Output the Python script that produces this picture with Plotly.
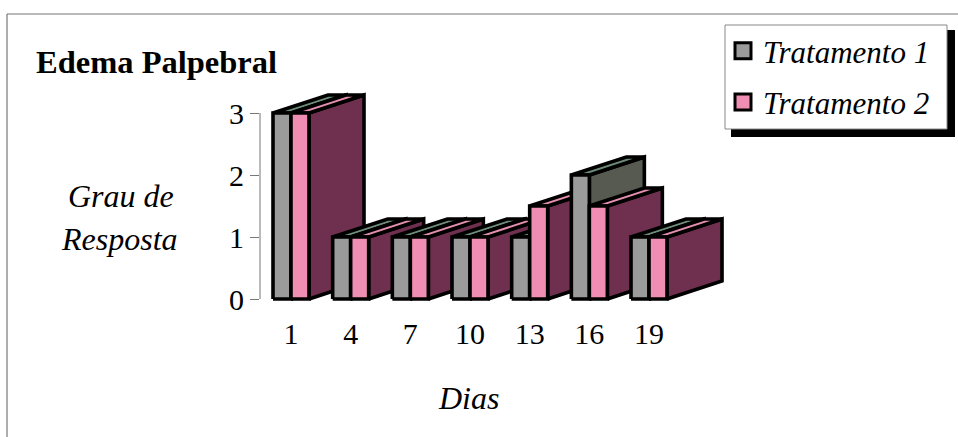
import plotly.graph_objects as go

days = [1, 4, 7, 10, 13, 16, 19]
tratamento_1 = [3, 1, 1, 1, 1, 2, 1]
tratamento_2 = [3, 1, 1, 1, 1.5, 1.5, 1]
y_ticks = [0, 1, 2, 3]

W, H = 958, 437
SERIF = "Liberation Serif, Times New Roman, serif"

# plot area in page pixels; it leaves room for the oblique depth of the bars
LEFT, RIGHT, TOP, BOTTOM = 260, 730, 88, 304
Y0_PX, Y3_PX = 299, 113
PX_PER_DAY = 19.89
PX_PER_UNIT = (Y0_PX - Y3_PX) / 3

BAR_W = 18 / PX_PER_DAY
DEPTH_X = 55 / PX_PER_DAY
DEPTH_Y = 18 / PX_PER_UNIT

x_start = 1 - (291 - LEFT) / PX_PER_DAY
x_end = x_start + (RIGHT - LEFT) / PX_PER_DAY
y_start = -(BOTTOM - Y0_PX) / PX_PER_UNIT
y_end = (Y0_PX - TOP) / PX_PER_UNIT

STYLES = [
    {"front": "#9b9b9b", "top": "#6f8b7a", "side": "#565a50"},
    {"front": "#f08db2", "top": "#e58fae", "side": "#6f2f4f"},
]


def face(xs, ys, color):
    return go.Scatter(
        x=xs, y=ys, mode="lines", fill="toself", fillcolor=color,
        line=dict(color="black", width=3.6),
        showlegend=False, hoverinfo="skip",
    )


def box_faces(x0, x1, v, style):
    """Side, top and front of one oblique bar, back to front."""
    dx, dy = DEPTH_X, DEPTH_Y
    return [
        face([x1, x1 + dx, x1 + dx, x1, x1], [0, dy, v + dy, v, 0], style["side"]),
        face([x0, x0 + dx, x1 + dx, x1, x0], [v, v + dy, v + dy, v, v], style["top"]),
        face([x0, x1, x1, x0, x0], [0, 0, v, v, 0], style["front"]),
    ]


fig = go.Figure()

for day, v1, v2 in zip(days, tratamento_1, tratamento_2):
    for tr in box_faces(day - BAR_W, day, v1, STYLES[0]):
        fig.add_trace(tr)
    for tr in box_faces(day, day + BAR_W, v2, STYLES[1]):
        fig.add_trace(tr)

# legend entries
for i, name in enumerate(["Tratamento 1", "Tratamento 2"]):
    fig.add_trace(go.Scatter(
        x=[None], y=[None], mode="markers", name=name, legendgroup=name,
        marker=dict(symbol="square", size=19, color=STYLES[i]["front"],
                    line=dict(color="black", width=3)),
    ))


def fx(px):
    return px / W


def fy(py):
    return 1 - py / H


shapes = [
    # page frame: top and left rules
    dict(type="line", xref="paper", yref="paper", x0=fx(7), x1=fx(958), y0=fy(14), y1=fy(14),
         line=dict(color="#777777", width=1.2)),
    dict(type="line", xref="paper", yref="paper", x0=fx(7), x1=fx(7), y0=fy(14), y1=fy(437),
         line=dict(color="#777777", width=1.2)),
    # value axis spine, stopping at the top tick
    dict(type="line", xref="paper", yref="y", x0=fx(LEFT), x1=fx(LEFT), y0=y_ticks[0], y1=y_ticks[-1],
         line=dict(color="#777777", width=1)),
    # legend drop shadow and box
    dict(type="rect", xref="paper", yref="paper", x0=fx(731), x1=fx(955), y0=fy(30), y1=fy(137),
         fillcolor="black", line=dict(width=0)),
    dict(type="rect", xref="paper", yref="paper", x0=fx(725), x1=fx(947), y0=fy(25), y1=fy(129),
         fillcolor="white", line=dict(color="#888888", width=1)),
]

annotations = [
    dict(text="Edema Palpebral", xref="paper", yref="paper", x=fx(34), y=fy(62),
         xanchor="left", yanchor="middle", showarrow=False,
         font=dict(family=SERIF, size=32.5, color="black", weight="bold")),
    dict(text="Grau de", xref="paper", yref="paper", x=fx(121), y=fy(196),
         xanchor="center", yanchor="middle", showarrow=False,
         font=dict(family=SERIF, size=32, color="black", style="italic")),
    dict(text="Resposta", xref="paper", yref="paper", x=fx(119), y=fy(239),
         xanchor="center", yanchor="middle", showarrow=False,
         font=dict(family=SERIF, size=32, color="black", style="italic")),
    dict(text="Dias", xref="paper", yref="paper", x=fx(468), y=fy(398),
         xanchor="center", yanchor="middle", showarrow=False,
         font=dict(family=SERIF, size=32, color="black", style="italic")),
]

fig.update_layout(
    width=W, height=H,
    margin=dict(l=0, r=0, t=0, b=0, autoexpand=False),
    paper_bgcolor="white", plot_bgcolor="rgba(0,0,0,0)",
    shapes=shapes, annotations=annotations,
    showlegend=True,
    legend=dict(x=fx(723), y=fy(24), xanchor="left", yanchor="top",
                bgcolor="rgba(0,0,0,0)", borderwidth=0, tracegroupgap=8,
                itemsizing="trace",
                font=dict(family=SERIF, size=31, color="black", style="italic")),
    xaxis=dict(
        domain=[fx(LEFT), fx(RIGHT)], range=[x_start, x_end], automargin=False,
        tickmode="array", tickvals=days, ticktext=[str(d) for d in days],
        showline=False, showgrid=False, zeroline=False, ticks="",
        ticklabelstandoff=9,
        tickfont=dict(family=SERIF, size=30, color="black"),
    ),
    yaxis=dict(
        domain=[fy(BOTTOM), fy(TOP)], range=[y_start, y_end], automargin=False,
        tickmode="array", tickvals=y_ticks,
        showline=False, showgrid=False, zeroline=False,
        ticks="outside", ticklen=9, tickcolor="#777777", tickwidth=1,
        ticklabelstandoff=0,
        tickfont=dict(family=SERIF, size=30, color="black"),
    ),
)

fig.write_html("out.html", config={"displayModeBar": False})
